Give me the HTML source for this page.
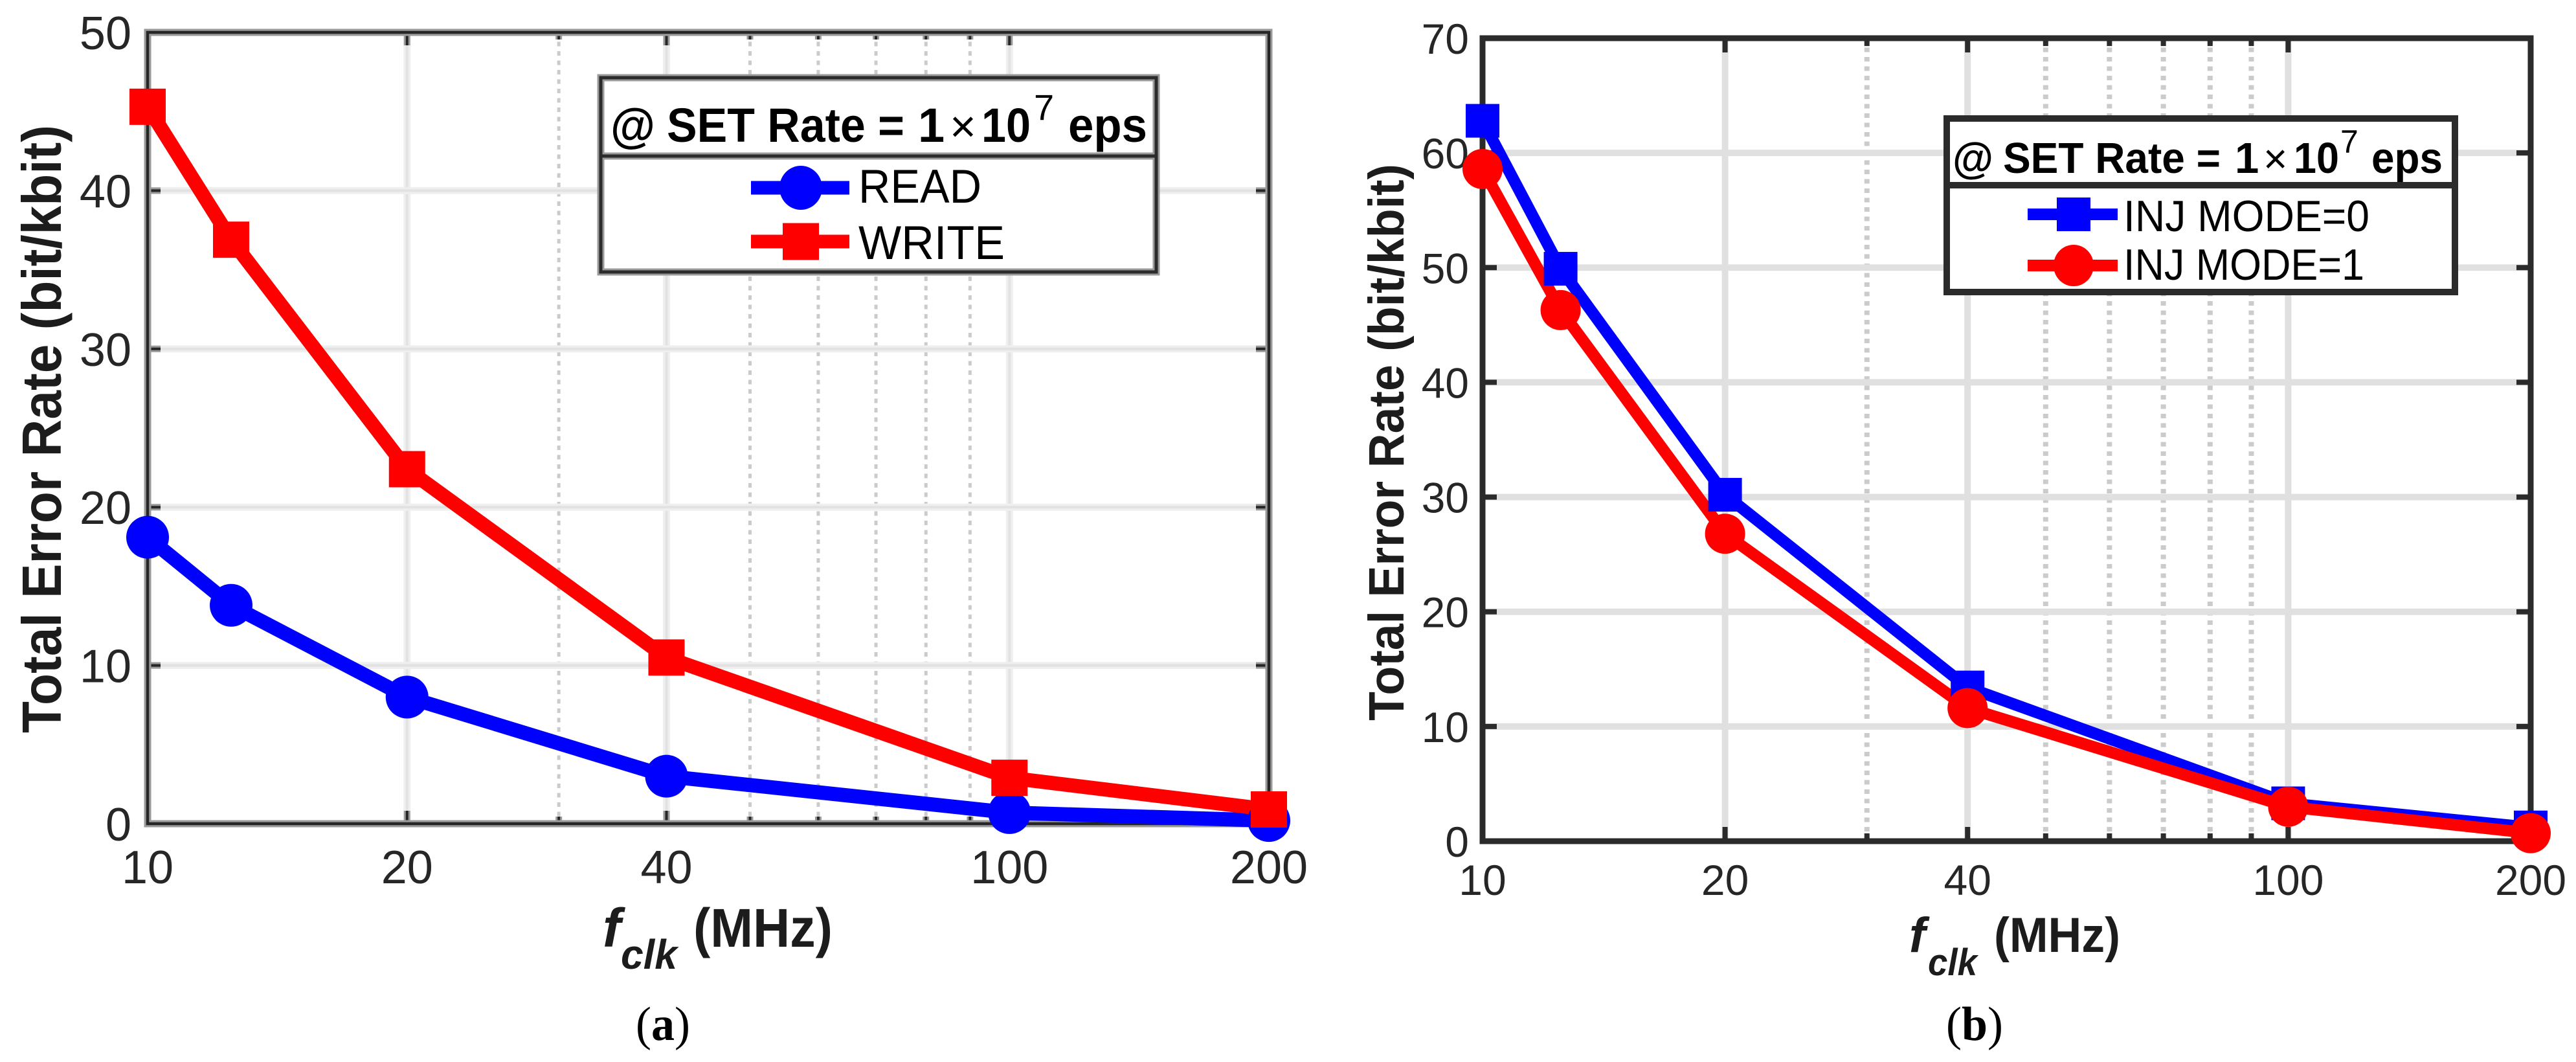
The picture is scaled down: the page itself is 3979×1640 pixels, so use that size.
<!DOCTYPE html>
<html lang="en">
<head>
<meta charset="utf-8">
<title>Total Error Rate vs clock frequency</title>
<style>
html,body{margin:0;padding:0;background:#fff;width:3979px;height:1640px;overflow:hidden}
svg{display:block}
text{font-family:"Liberation Sans",Arial,sans-serif}
.tick{fill:#262626;font-size:72px}
.tickb{fill:#262626;font-size:66px}
.ax{fill:#1c1c1c;font-weight:bold}
.leg{fill:#000}
.b{font-weight:bold}
.cap{font-family:"Liberation Serif",serif;fill:#000;font-size:74px}
</style>
</head>
<body>
<svg id="fig" width="3979" height="1640" viewBox="0 0 3979 1640" xmlns="http://www.w3.org/2000/svg">
  <g id="chartA"></g>
  <g id="chartB"></g>

  <!-- Panel (a) text -->
  <text class="ax" x="94" y="1132" font-size="85" textLength="939" lengthAdjust="spacingAndGlyphs" transform="rotate(-90 94 1132)">Total Error Rate (bit/kbit)</text>
  <text class="ax" x="931" y="1462" font-size="84" font-style="italic">f</text>
  <text class="ax" x="959" y="1496" font-size="64" font-style="italic" textLength="87" lengthAdjust="spacingAndGlyphs">clk</text>
  <text class="ax" x="1071" y="1462" font-size="84" textLength="215" lengthAdjust="spacingAndGlyphs">(MHz)</text>
  <text class="cap" x="982" y="1606" textLength="84" lengthAdjust="spacingAndGlyphs">(<tspan class="b">a</tspan>)</text>

  <!-- Panel (a) legend -->
  <g>
    <rect x="928" y="120" width="858" height="300" fill="#fff" stroke="#9a9a9a" stroke-width="11"/>
    <line x1="928" x2="1786" y1="241" y2="241" stroke="#9a9a9a" stroke-width="11"/>
    <rect x="928" y="120" width="858" height="300" fill="none" stroke="#2b2b2b" stroke-width="5"/>
    <line x1="928" x2="1786" y1="241" y2="241" stroke="#2b2b2b" stroke-width="5"/>
    <g>
      <text class="leg b" x="943" y="219" font-size="74" textLength="69" lengthAdjust="spacingAndGlyphs">@</text>
      <text class="leg b" x="1030" y="219" font-size="74" textLength="367" lengthAdjust="spacingAndGlyphs">SET Rate =</text>
      <text class="leg b" x="1418" y="219" font-size="74">1</text>
      <text class="leg" x="1467" y="219" font-size="70">×</text>
      <text class="leg b" x="1516" y="219" font-size="74" textLength="76" lengthAdjust="spacingAndGlyphs">10</text>
      <text class="leg" x="1597" y="185" font-size="56">7</text>
      <text class="leg b" x="1650" y="219" font-size="74" textLength="122" lengthAdjust="spacingAndGlyphs">eps</text>
    </g>
    <g>
      <line x1="1160" x2="1312" y1="290" y2="290" stroke="#0000ff" stroke-width="21"/>
      <ellipse cx="1237" cy="290" rx="33" ry="34" fill="#0000ff"/>
      <text class="leg" x="1326" y="313" font-size="73" textLength="190" lengthAdjust="spacingAndGlyphs">READ</text>
    </g>
    <g>
      <line x1="1160" x2="1312" y1="373" y2="373" stroke="#ff0000" stroke-width="21"/>
      <rect x="1209" y="344.500" width="56" height="57" fill="#ff0000"/>
      <text class="leg" x="1326" y="400" font-size="73" textLength="226" lengthAdjust="spacingAndGlyphs">WRITE</text>
    </g>
  </g>

  <!-- Panel (b) text -->
  <text class="ax" x="2168" y="1113" font-size="77" textLength="860" lengthAdjust="spacingAndGlyphs" transform="rotate(-90 2168 1113)">Total Error Rate (bit/kbit)</text>
  <text class="ax" x="2949" y="1470" font-size="76" font-style="italic">f</text>
  <text class="ax" x="2978" y="1506" font-size="58" font-style="italic" textLength="76" lengthAdjust="spacingAndGlyphs">clk</text>
  <text class="ax" x="3080" y="1470" font-size="76" textLength="195" lengthAdjust="spacingAndGlyphs">(MHz)</text>
  <text class="cap" x="3006" y="1606" textLength="88" lengthAdjust="spacingAndGlyphs">(<tspan class="b">b</tspan>)</text>

  <!-- Panel (b) legend -->
  <g>
    <rect x="3007" y="183" width="785" height="268" fill="#fff" stroke="#2b2b2b" stroke-width="10"/>
    <line x1="3007" x2="3792" y1="286" y2="286" stroke="#2b2b2b" stroke-width="10"/>
    <g>
      <text class="leg b" x="3016" y="267" font-size="67" textLength="63" lengthAdjust="spacingAndGlyphs">@</text>
      <text class="leg b" x="3094" y="267" font-size="67" textLength="336" lengthAdjust="spacingAndGlyphs">SET Rate =</text>
      <text class="leg b" x="3452" y="267" font-size="67">1</text>
      <text class="leg" x="3496" y="267" font-size="64">×</text>
      <text class="leg b" x="3543" y="267" font-size="67" textLength="70" lengthAdjust="spacingAndGlyphs">10</text>
      <text class="leg" x="3615" y="236" font-size="50">7</text>
      <text class="leg b" x="3663" y="267" font-size="67" textLength="110" lengthAdjust="spacingAndGlyphs">eps</text>
    </g>
    <g>
      <line x1="3132" x2="3271" y1="331" y2="331" stroke="#0000ff" stroke-width="18"/>
      <rect x="3177" y="305" width="52" height="52" fill="#0000ff"/>
      <text class="leg" x="3280" y="357" font-size="68" textLength="380" lengthAdjust="spacingAndGlyphs">INJ MODE=0</text>
    </g>
    <g>
      <line x1="3132" x2="3271" y1="410" y2="410" stroke="#ff0000" stroke-width="18"/>
      <ellipse cx="3203" cy="410" rx="31" ry="32" fill="#ff0000"/>
      <text class="leg" x="3280" y="432" font-size="68" textLength="372" lengthAdjust="spacingAndGlyphs">INJ MODE=1</text>
    </g>
  </g>
</svg>

<script>
// Chart data
const freqMHz = [10, 12.5, 20, 40, 100, 200];
const readRate = [18.1, 13.8, 8.0, 3.0, 0.7, 0.2];
const writeRate = [45.3, 36.9, 22.4, 10.5, 2.9, 0.9];
const injMode0 = [62.8, 49.9, 30.2, 13.4, 3.3, 1.2];
const injMode1 = [58.6, 46.3, 26.8, 11.6, 3.0, 0.7];
const xMajorTicks = [10, 20, 40, 100, 200];
const xMinorTicks = [30, 50, 60, 70, 80, 90];
const yTicksA = [0, 10, 20, 30, 40, 50];
const yTicksB = [0, 10, 20, 30, 40, 50, 60, 70];

const NS = 'http://www.w3.org/2000/svg';

function make(parent, tag, attrs, text) {
  const el = document.createElementNS(NS, tag);
  for (const k in attrs) el.setAttribute(k, attrs[k]);
  if (text !== undefined) el.textContent = text;
  parent.appendChild(el);
  return el;
}

function drawChart(root, cfg, yTicks, series) {
  const xMin = xMajorTicks[0];
  const xMax = xMajorTicks[xMajorTicks.length - 1];
  const yMin = yTicks[0];
  const yMax = yTicks[yTicks.length - 1];
  const xScale = v => cfg.left + (Math.log10(v) - Math.log10(xMin)) / (Math.log10(xMax) - Math.log10(xMin)) * (cfg.right - cfg.left);
  const yScale = v => cfg.bottom - (v - yMin) / (yMax - yMin) * (cfg.bottom - cfg.top);

  // gridlines
  xMinorTicks.forEach(v => {
    const g = make(root, 'line', {x1: xScale(v), x2: xScale(v), y1: cfg.top, y2: cfg.bottom, stroke: '#cbcbcb', 'stroke-width': cfg.minorW, 'stroke-dasharray': '7 7.500'});
    
    
  });
  const gridline = (x1, y1, x2, y2, name) => {
    const g = make(root, 'line', {x1, y1, x2, y2, stroke: cfg.grid, 'stroke-width': cfg.gridW});
    
    
    if (cfg.gridCore) {
      const c = make(root, 'line', {x1, y1, x2, y2, stroke: cfg.gridCore, 'stroke-width': cfg.gridCoreW});
      
      
    }
  };
  xMajorTicks.slice(1, -1).forEach(v => gridline(xScale(v), cfg.top, xScale(v), cfg.bottom, 'x-major-gridline'));
  yTicks.slice(1, -1).forEach(v => gridline(cfg.left, yScale(v), cfg.right, yScale(v), 'y-gridline'));

  // tick marks
  const tick = (x1, y1, x2, y2, name) => {
    if (cfg.halo) {
      const h = make(root, 'line', {x1, y1, x2, y2, stroke: cfg.halo, 'stroke-width': cfg.tickHaloW});
      
      
    }
    const t = make(root, 'line', {x1, y1, x2, y2, stroke: cfg.frame, 'stroke-width': cfg.tickW});
    
    
  };
  xMajorTicks.slice(1, -1).forEach(v => {
    tick(xScale(v), cfg.bottom, xScale(v), cfg.bottom - cfg.tickLen, 'x-tick');
    tick(xScale(v), cfg.top, xScale(v), cfg.top + cfg.tickLen, 'x-tick');
  });
  xMinorTicks.forEach(v => {
    tick(xScale(v), cfg.bottom, xScale(v), cfg.bottom - cfg.tickLen * 0.55, 'x-minor-tick');
    tick(xScale(v), cfg.top, xScale(v), cfg.top + cfg.tickLen * 0.55, 'x-minor-tick');
  });
  yTicks.slice(1, -1).forEach(v => {
    tick(cfg.left, yScale(v), cfg.left + cfg.tickLen, yScale(v), 'y-tick');
    tick(cfg.right, yScale(v), cfg.right - cfg.tickLen, yScale(v), 'y-tick');
  });

  // frame
  if (cfg.halo) {
    const fh = make(root, 'rect', {x: cfg.left, y: cfg.top, width: cfg.right - cfg.left, height: cfg.bottom - cfg.top, fill: 'none', stroke: cfg.halo, 'stroke-width': cfg.haloW});
    
    
  }
  const frame = make(root, 'rect', {x: cfg.left, y: cfg.top, width: cfg.right - cfg.left, height: cfg.bottom - cfg.top, fill: 'none', stroke: cfg.frame, 'stroke-width': cfg.frameW});
  
  

  // tick labels
  xMajorTicks.forEach(v => {
    const t = make(root, 'text', {class: cfg.labelClass, x: xScale(v), y: cfg.xLabelY, 'text-anchor': 'middle'}, String(v));
    
    
  });
  yTicks.forEach(v => {
    const t = make(root, 'text', {class: cfg.labelClass, x: cfg.yLabelX, y: yScale(v) + cfg.yLabelDy, 'text-anchor': 'end'}, String(v));
    
    
  });

  // series
  series.forEach(s => {
    const pts = s.values.map((v, i) => xScale(freqMHz[i]) + ',' + yScale(v)).join(' ');
    const line = make(root, 'polyline', {points: pts, fill: 'none', stroke: s.color, 'stroke-width': cfg.lineW, 'stroke-linejoin': 'round'});
    
    
  });
  series.forEach(s => {
    s.values.forEach((v, i) => {
      const cx = xScale(freqMHz[i]);
      const cy = yScale(v);
      let m;
      if (s.marker === 'square') {
        m = make(root, 'rect', {x: cx - cfg.square / 2, y: cy - cfg.square / 2, width: cfg.square, height: cfg.square, fill: s.color});
      } else {
        m = make(root, 'circle', {cx, cy, r: cfg.circle / 2, fill: s.color});
      }
      
      
    });
  });
}

drawChart(document.getElementById('chartA'),
  {left: 228, right: 1960, top: 50, bottom: 1272, grid: '#efefef', gridW: 11, gridCore: '#e2e2e2', gridCoreW: 4, minorW: 5, frame: '#262626', frameW: 4.500, halo: '#9a9a9a', haloW: 11, tickW: 4, tickHaloW: 10, tickLen: 20, lineW: 22, square: 56, circle: 66, labelClass: 'tick', xLabelY: 1364, yLabelX: 203, yLabelDy: 26},
  yTicksA,
  [
    {name: 'read', values: readRate, color: '#0000ff', marker: 'circle'},
    {name: 'write', values: writeRate, color: '#ff0000', marker: 'square'}
  ]);

drawChart(document.getElementById('chartB'),
  {left: 2290, right: 3909, top: 59, bottom: 1299, grid: '#e0e0e0', gridW: 10, minorW: 8, frame: '#2b2b2b', frameW: 9, tickW: 8, tickLen: 22, lineW: 18, square: 52, circle: 62, labelClass: 'tickb', xLabelY: 1382, yLabelX: 2269, yLabelDy: 24},
  yTicksB,
  [
    {name: 'inj-mode-0', values: injMode0, color: '#0000ff', marker: 'square'},
    {name: 'inj-mode-1', values: injMode1, color: '#ff0000', marker: 'circle'}
  ]);
</script>
</body>
</html>
